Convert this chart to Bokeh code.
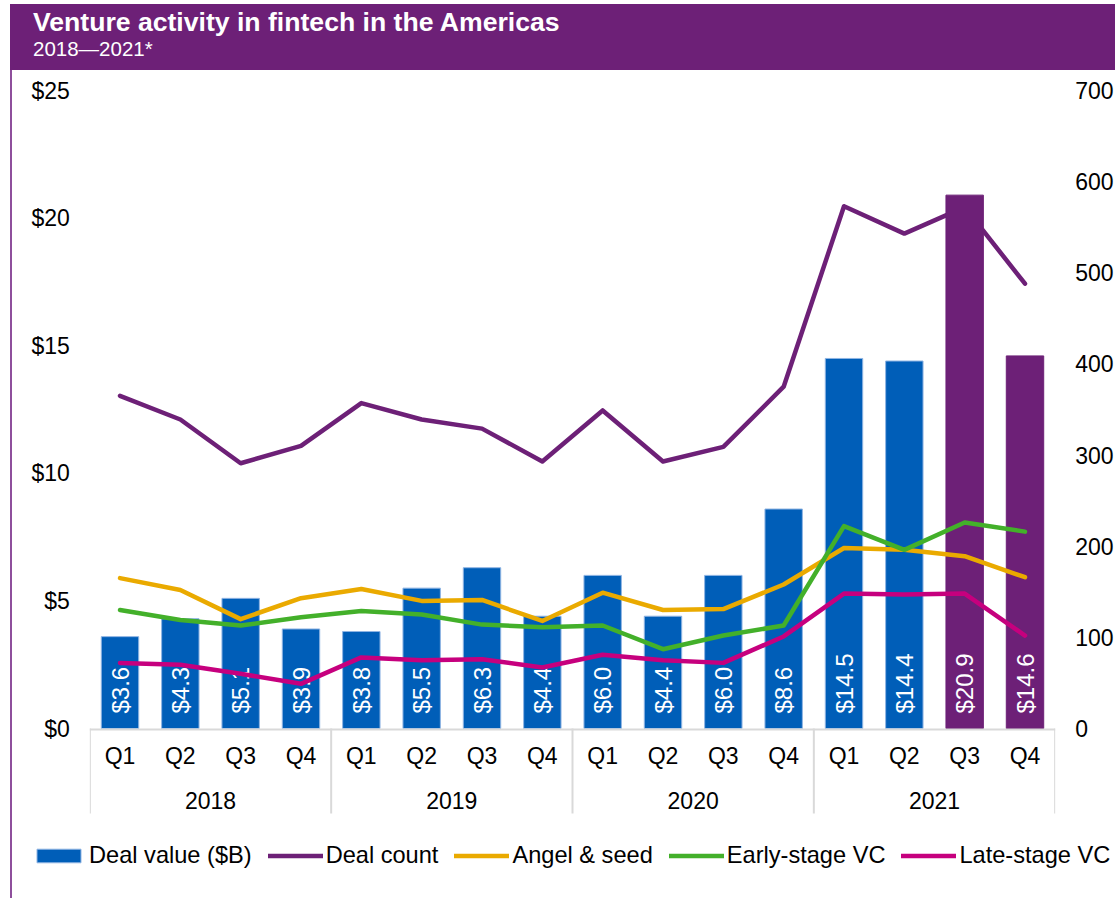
import math
from bokeh.plotting import figure
from bokeh.models import (FactorRange, Range1d, LinearAxis, FixedTicker, NumeralTickFormatter,
                          Legend, LegendItem, Div, BoxAnnotation, ColumnDataSource)
from bokeh.layouts import column, row
from bokeh.core.properties import value
from bokeh.embed import file_html
from bokeh.resources import INLINE

# ---------------- data ----------------
years = ["2018", "2019", "2020", "2021"]
quarters = ["Q1", "Q2", "Q3", "Q4"]
deal_value = [3.6, 4.3, 5.1, 3.9, 3.8, 5.5, 6.3, 4.4, 6.0, 4.4, 6.0, 8.6, 14.5, 14.4, 20.9, 14.6]
deal_count = [365, 339, 291, 310, 357, 339, 329, 293, 349, 293, 309, 375, 573, 543, 572, 488]
angel_seed = [165, 152, 120, 143, 153, 140, 141, 118, 149, 130, 131, 158, 198, 196, 189, 166]
early_vc = [130, 119, 113, 122, 129, 125, 114, 111, 113, 87, 102, 113, 222, 196, 226, 216]
late_vc = [72, 70, 60, 49, 78, 75, 76, 67, 81, 75, 72, 101, 148, 147, 148, 102]
left_ticks = [0, 5, 10, 15, 20, 25]
right_ticks = [0, 100, 200, 300, 400, 500, 600, 700]
LEFT_MAX = 25
RIGHT_MAX = 700

# ---------------- styles ----------------
PURPLE = "#6D2077"
BLUE = "#005EB8"
ORANGE = "#EAAA00"
GREEN = "#43B02A"
MAGENTA = "#C6007E"
GRID = "#d9d9d9"
FONT = "Liberation Sans"
FS = "23px"

# pixel geometry of the frame (figure-local, figure top = page y 70)
FIG_W, FIG_H = 1103, 828
PX_TOP_VAL = 20      # where the max tick sits below the frame top
PX_ZERO = 658        # where zero sits below the frame top
PX_BRACKET = 85      # depth of category brackets below zero
ppu_l = (PX_ZERO - PX_TOP_VAL) / LEFT_MAX
ppu_r = (PX_ZERO - PX_TOP_VAL) / RIGHT_MAX

# a blank middle level only adds a little space between quarter and year labels
SPACER = " "
factors = [(y, SPACER, q) for y in years for q in quarters]
n = len(factors)
bar_colors = [BLUE] * 14 + [PURPLE] * 2
bar_lines = ["#8fb4e3"] * 14 + [PURPLE] * 2
labels = ["$%.1f" % v for v in deal_value]

src = ColumnDataSource(dict(x=factors, v=deal_value, c=bar_colors, lc=bar_lines, lab=labels,
                            zero=[0] * n, dc=deal_count, an=angel_seed,
                            ev=early_vc, lv=late_vc))

x_range = FactorRange(*factors, group_padding=0, subgroup_padding=0, factor_padding=0,
                      range_padding=1, range_padding_units="absolute")
y_range = Range1d(-(FIG_H - PX_ZERO) / ppu_l, LEFT_MAX + PX_TOP_VAL / ppu_l)

p = figure(x_range=x_range, y_range=y_range, width=FIG_W, height=FIG_H, title=None,
           output_backend="svg", toolbar_location=None,
           min_border_left=17, min_border_right=0, min_border_top=0, min_border_bottom=0)
p.outline_line_color = None
p.grid.visible = False
p.background_fill_color = "white"
p.border_fill_color = "white"
p.extra_y_ranges = {"count": Range1d(-(FIG_H - PX_ZERO) / ppu_r, RIGHT_MAX + PX_TOP_VAL / ppu_r)}

r_dc = p.line(x="x", y="dc", source=src, y_range_name="count", line_color=PURPLE, line_width=4.5,
              line_join="round", line_cap="round")
bars = p.vbar(x="x", top="v", width=0.62, source=src, fill_color="c", line_color="lc", line_width=1)
p.text(x="x", y="zero", text="lab", source=src, angle=math.pi / 2, text_align="left",
       text_baseline="middle", y_offset=-15, text_color="white",
       text_font=value(FONT), text_font_size="24px")
r_an = p.line(x="x", y="an", source=src, y_range_name="count", line_color=ORANGE, line_width=4.5,
              line_join="round", line_cap="round")
r_ev = p.line(x="x", y="ev", source=src, y_range_name="count", line_color=GREEN, line_width=4.5,
              line_join="round", line_cap="round")
r_lv = p.line(x="x", y="lv", source=src, y_range_name="count", line_color=MAGENTA, line_width=4.5,
              line_join="round", line_cap="round")

# left axis (placed at the left edge of the categories)
ya = p.yaxis[0]
ya.fixed_location = 0
ya.ticker = FixedTicker(ticks=left_ticks)
ya.formatter = NumeralTickFormatter(format="$0")
ya.axis_line_color = None
ya.major_tick_line_color = None
ya.minor_tick_line_color = None
ya.major_tick_out = 0
ya.major_tick_in = 0
ya.minor_tick_out = 0
ya.major_label_text_font = FONT
ya.major_label_text_font_size = FS
ya.major_label_text_color = "black"
ya.major_label_standoff = 20

# right axis
ra = LinearAxis(y_range_name="count", ticker=FixedTicker(ticks=right_ticks), fixed_location=n)
ra.axis_line_color = None
ra.major_tick_line_color = None
ra.minor_tick_line_color = None
ra.major_tick_out = 0
ra.major_tick_in = 0
ra.minor_tick_out = 0
ra.major_label_text_font = FONT
ra.major_label_text_font_size = FS
ra.major_label_text_color = "black"
ra.major_label_standoff = 20
p.add_layout(ra, "right")

# x axis at zero
xa = p.xaxis[0]
xa.fixed_location = 0
xa.major_tick_line_color = None
xa.axis_line_color = None
xa.major_label_text_font = FONT
xa.major_label_text_font_size = FS
xa.major_label_text_color = "black"
xa.major_label_standoff = 8
xa.subgroup_text_font = FONT
xa.subgroup_text_font_size = "1px"
xa.subgroup_text_color = "white"
xa.group_text_font = FONT
xa.group_text_font_size = FS
xa.group_text_font_style = "normal"
xa.group_text_color = "black"
xa.separator_line_color = None

# category bracket: baseline and group separators
p.add_layout(BoxAnnotation(left=0, right=n, top=0, bottom=-2 / ppu_l,
                           fill_color=GRID, fill_alpha=1, line_color=None))
half = 1.0 / (966 / n)
for k in range(len(years) + 1):
    edge = k * len(quarters)
    lo = max(edge - half, 0)
    hi = min(edge + half, n)
    p.add_layout(BoxAnnotation(left=lo, right=hi, top=0, bottom=-PX_BRACKET / ppu_l,
                               fill_color=GRID, fill_alpha=1, line_color=None))

legend = Legend(items=[LegendItem(label="Deal value ($B)", renderers=[bars]),
                       LegendItem(label="Deal count", renderers=[r_dc]),
                       LegendItem(label="Angel & seed", renderers=[r_an]),
                       LegendItem(label="Early-stage VC", renderers=[r_ev]),
                       LegendItem(label="Late-stage VC", renderers=[r_lv])],
                orientation="horizontal", location=(2, 29))
legend.border_line_color = None
legend.background_fill_alpha = 0
legend.label_text_font = FONT
legend.label_text_font_size = "23.6px"
legend.label_text_color = "black"
legend.glyph_width = 55
legend.glyph_height = 17
legend.label_standoff = 3
legend.spacing = 16
legend.padding = 0
legend.margin = 0
p.add_layout(legend, "center")

header = Div(text=(
    "<div style=\"position:relative;width:1115px;height:70px;\">"
    "<div style=\"position:absolute;left:10px;top:4px;width:1105px;height:66px;background:#6D2077;"
    "color:white;font-family:'Liberation Sans',Arial,sans-serif;\">"
    "<div style=\"position:absolute;left:23px;top:2px;font-size:26.6px;font-weight:bold;"
    "line-height:32px;white-space:nowrap;\">Venture activity in fintech in the Americas</div>"
    "<div style=\"position:absolute;left:23px;top:33px;font-size:20.5px;line-height:24px;"
    "white-space:nowrap;\">2018—2021*</div></div></div>"),
    width=1115, height=70, styles={"margin": "0px", "padding": "0px"})
side = Div(text=("<div style=\"position:relative;width:12px;height:828px;\">"
                 "<div style=\"position:absolute;left:10px;top:0px;width:2px;height:828px;"
                 "background:#8e4f9c;\"></div></div>"),
           width=12, height=FIG_H, styles={"margin": "0px", "padding": "0px"})

layout = column(header, row(side, p, spacing=0), spacing=0)
open("out.html", "w").write(file_html(layout, INLINE))
